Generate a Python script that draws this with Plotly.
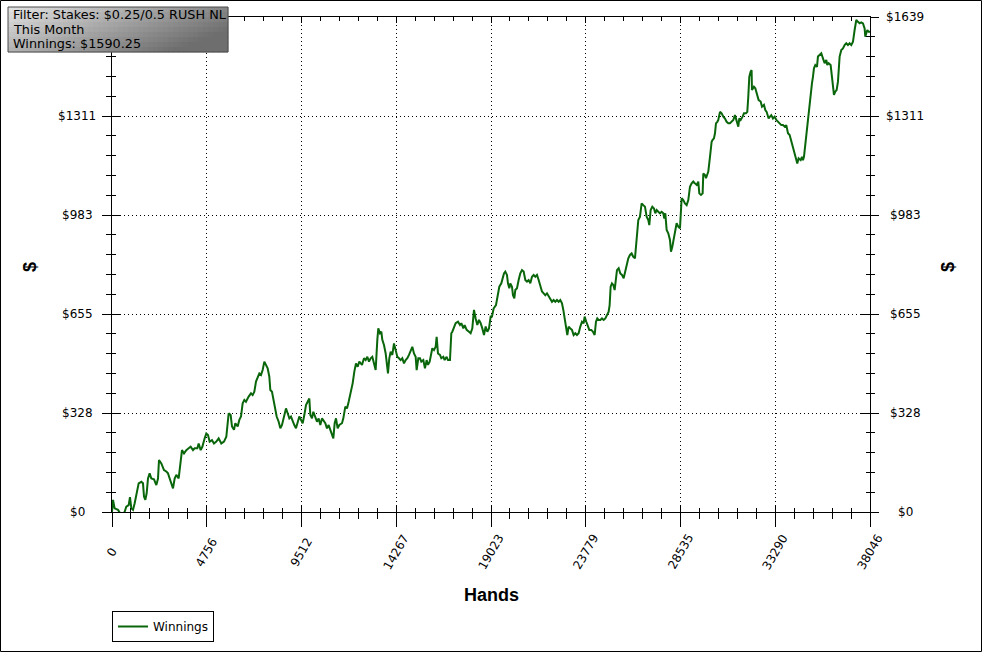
import plotly.graph_objects as go

# ---------------- data ----------------
hands = [0, 50, 134, 301, 468, 552, 636, 719, 837, 903, 970, 1054, 1138, 1271, 1338, 1472, 1556, 1606, 1673, 1740,
         1807, 1890, 1974, 2108, 2225, 2309, 2359, 2476, 2610, 2727, 2811, 2894, 2978, 3062, 3145, 3229, 3346, 3446,
         3513, 3614, 3731, 3848, 3948, 4065, 4149, 4283, 4350, 4450, 4534, 4651, 4734, 4818, 4902, 5019, 5119, 5236,
         5354, 5487, 5621, 5738, 5822, 5856, 5956, 6023, 6123, 6190,
         6307, 6391, 6475, 6558, 6642, 6725, 6859, 6976, 7060, 7144, 7227, 7311, 7395, 7478, 7562, 7646, 7729, 7813,
         7897, 7947, 8030, 8097, 8198, 8265, 8365, 8449, 8532, 8650, 8733, 8817, 8901, 8984, 9068, 9151, 9235, 9319,
         9402, 9486, 9570, 9653, 9737, 9821, 9904, 9954, 10038, 10105, 10205, 10289, 10373, 10456, 10540, 10607,
         10707, 10791, 10875, 10958, 11042, 11109, 11176, 11243, 11326, 11410, 11544, 11611, 11711, 11795, 11878,
         11995, 12079, 12163, 12246, 12330, 12414, 12548,
         12648, 12732, 12815, 12899, 12982, 13066, 13150, 13234, 13317, 13367, 13451, 13518, 13568, 13652, 13736,
         13819, 13852, 13919, 13986, 14070, 14154, 14237, 14321, 14405, 14488, 14572, 14655, 14739, 14823, 14906,
         14990, 15074, 15157, 15241, 15291, 15375, 15459, 15525, 15626, 15709, 15793, 15860, 15944, 16027, 16077,
         16161, 16245, 16295, 16362, 16462, 16529, 16630, 16697, 16797, 16864, 16964, 17031, 17081, 17165, 17249,
         17366, 17466, 17533, 17634, 17701, 17801, 17918, 18001, 18085, 18169, 18252, 18336, 18420, 18504, 18587,
         18671, 18755, 18838, 18922, 19006,
         19072, 19156, 19273, 19373, 19440, 19541, 19608, 19674, 19741, 19825, 19875, 19942, 19992, 20076, 20126,
         20193, 20243, 20327, 20411, 20494, 20578, 20662, 20745, 20829, 20913, 20996, 21080, 21164, 21247, 21331,
         21415, 21498, 21582, 21666, 21749, 21833, 21917, 22000, 22084, 22168, 22251, 22335, 22419, 22502, 22586,
         22653, 22719, 22786, 22853, 22920, 23004, 23087, 23171, 23255, 23338, 23422, 23506, 23589, 23673, 23723,
         23807, 23874, 23957, 24058, 24141, 24225, 24292, 24359, 24426, 24510, 24593, 24677, 24761, 24844, 24928,
         24978, 25028, 25095, 25162, 25229, 25296, 25346, 25430, 25513, 25597, 25681,
         25915, 25998, 26082, 26166, 26249, 26333, 26417, 26500, 26584, 26668, 26751, 26835, 26919, 26969, 27036,
         27119, 27203, 27270, 27337, 27420, 27504, 27588, 27671, 27722, 27772, 27839, 27922, 28006, 28056, 28123,
         28173, 28257, 28340, 28424, 28508, 28592, 28675, 28759, 28843, 28926, 29010, 29094, 29177, 29261, 29345,
         29428, 29478, 29562, 29646, 29679, 29763, 29813, 29880, 29930, 30014, 30047, 30097, 30147, 30214, 30265,
         30315, 30382, 30432, 30516, 30599, 30683, 30766, 30850, 30934, 31017, 31101, 31185, 31268, 31318, 31385,
         31435, 31486, 31553, 31653, 31720, 31820, 31887, 31937, 31987, 32054, 32104,
         32121, 32222, 32289, 32389, 32456, 32557, 32624, 32724, 32791, 32858, 32958, 33025, 33092, 33176, 33260,
         33343, 33427, 33510, 33594, 33678, 33762, 33845, 33929, 34013, 34096, 34180, 34264, 34347, 34397, 34464,
         34565, 34631, 34681, 34732, 34799, 34866, 34932, 34999, 35066, 35133, 35183, 35233, 35300, 35384, 35434,
         35518, 35601, 35685, 35769, 35852, 35902, 35969, 36070, 36137, 36187, 36237, 36304, 36371, 36438, 36521,
         36605, 36689, 36772, 36856, 36940, 37023, 37107, 37191, 37274, 37358, 37442, 37525, 37609, 37693, 37776,
         37810, 37860, 37910, 37977, 38046]

winnings = [0, 40, 12, 7, -10, -15, 1, 18, 23, 49, 12, 7, 29, 67, 95, 100, 95, 51, 40, 62,
            111, 128, 111, 108, 89, 111, 172, 161, 139, 134, 128, 111, 95, 78, 111, 123, 111, 178,
            205, 194, 205, 211, 216, 205, 211, 211, 227, 205, 216, 244, 260, 255, 233, 238, 227, 233,
            244, 227, 233, 249, 294, 327, 321, 283, 272, 294,
            283, 305, 316, 360, 371, 365, 382, 393, 387, 398, 432, 443, 459, 454, 470, 498, 487, 476,
            448, 404, 398, 376, 349, 316, 299, 277, 288, 327, 343, 327, 310, 316, 299, 288, 277, 299,
            316, 305, 294, 321, 354, 365, 376, 321, 310, 332, 316, 299, 310, 288, 310, 305,
            294, 277, 288, 272, 255, 244, 294, 310, 277, 288, 294, 310, 349, 343, 365,
            398, 426, 465, 492, 481, 498, 487,
            509, 503, 514, 498, 509, 514, 487, 470, 570, 608, 592, 597, 570, 553, 525,
            487, 459, 509, 531, 520, 558, 536, 514, 509, 503, 509, 492, 503, 509, 520,
            536, 547, 525, 514, 470, 509, 509, 498, 503, 476, 503, 487, 498, 525, 542,
            536, 547, 580, 525, 520, 509, 514, 503, 514, 503, 503, 592, 597, 614, 625,
            630, 619, 625, 608, 619, 603, 597, 592, 608, 669, 641, 619, 636, 625, 608,
            586, 614, 597, 608, 647,
            647, 674, 685, 718, 746, 757, 774, 790, 796, 785, 757, 741, 757, 746, 718,
            707, 735, 741, 768, 790, 801, 796, 768, 763, 768, 757, 779, 785, 779, 785,
            768, 752, 730, 724, 718, 724, 713, 707, 696, 702, 696, 702, 696, 702, 691,
            669, 647, 614, 586, 614, 608, 603, 586, 592, 586, 592, 614, 630, 625, 647,
            630, 614, 603, 603, 597, 586, 630, 641, 636, 636, 641, 636, 641, 652, 663,
            685, 746, 757, 752, 735, 779, 801, 807, 790, 785, 774,
            840, 851, 856, 845, 840, 895, 967, 978, 1022, 1016, 1011, 978, 967, 950, 1000,
            1011, 1005, 989, 1000, 994, 989, 994, 989, 972, 989, 934, 923, 901, 862, 878,
            895, 923, 956, 945, 939, 1039, 1033, 1022, 1016, 1033, 1077, 1088, 1094, 1088, 1083,
            1094, 1055, 1050, 1055, 1121, 1116, 1105, 1116, 1127, 1176, 1210, 1226, 1232, 1237, 1254,
            1287, 1292, 1298, 1325, 1320, 1309, 1303, 1292, 1287, 1287, 1292, 1298, 1314, 1303, 1292,
            1276, 1303, 1298, 1309, 1320, 1320, 1325, 1375, 1441, 1458, 1463,
            1397, 1408, 1403, 1381, 1364, 1359, 1342, 1348, 1331, 1325, 1303, 1309, 1314, 1303, 1309,
            1298, 1292, 1287, 1281, 1281, 1276, 1281, 1254, 1248, 1226, 1210, 1188, 1160, 1154, 1171,
            1165, 1176, 1165, 1176, 1221, 1265, 1309, 1353, 1392, 1419, 1441, 1469, 1480, 1474, 1508,
            1513, 1519, 1502, 1486, 1497, 1480, 1486, 1480, 1441, 1397, 1381, 1392, 1397, 1425, 1508,
            1530, 1535, 1546, 1552, 1546, 1552, 1546, 1557, 1596, 1629, 1623, 1618, 1621, 1618, 1601,
            1574, 1585, 1596, 1590, 1590.25]

x_ticks = [0, 4756, 9512, 14267, 19023, 23779, 28535, 33290, 38046]
x_tick_labels = ["0", "4756", "9512", "14267", "19023", "23779", "28535", "33290", "38046"]
y_ticks = [0, 327.8, 655.6, 983.4, 1311.2, 1639]
y_tick_labels = ["$0", "$328", "$655", "$983", "$1311", "$1639"]

info_lines = ["Filter: Stakes: $0.25/0.5 RUSH NL", "This Month", "Winnings: $1590.25"]
series_name = "Winnings"
x_title = "Hands"
y_title = "$"

# ---------------- figure ----------------
W, H = 983, 653
ML, MR, MT, MB = 112, 113, 17, 141
PW, PH = W - ML - MR, H - MT - MB


def px_x(p):
    return (p - ML) / PW


def px_y(p):
    return (H - MB - p) / PH


FONT = "DejaVu Sans"
x_rng = [x_ticks[0], x_ticks[-1]]
y_rng = [y_ticks[0], y_ticks[-1]]
x_minor = (x_ticks[1] - x_ticks[0]) / 5
y_minor = (y_ticks[1] - y_ticks[0]) / 5

fig = go.Figure()
fig.add_trace(go.Scatter(x=hands, y=winnings, mode="lines", name=series_name,
                         line=dict(color="#0a660a", width=2), hoverinfo="x+y"))
# invisible helpers so the overlay axes (crossing ticks) get drawn
fig.add_trace(go.Scatter(x=hands, y=winnings, mode="lines", xaxis="x2", yaxis="y2",
                         line=dict(color="rgba(0,0,0,0)", width=0), showlegend=False, hoverinfo="skip"))
fig.add_trace(go.Scatter(x=hands, y=winnings, mode="lines", xaxis="x", yaxis="y3",
                         line=dict(color="rgba(0,0,0,0)", width=0), showlegend=False, hoverinfo="skip"))

grid = dict(showgrid=True, gridcolor="#000000", gridwidth=1, griddash="1px,3px")
fig.update_layout(
    width=W, height=H, autosize=False,
    margin=dict(l=ML, r=MR, t=MT, b=MB, autoexpand=False),
    paper_bgcolor="white", plot_bgcolor="white",
    font=dict(family=FONT, size=12, color="black"),
    showlegend=True,
    legend=dict(x=0, xanchor="left", y=px_y(611), yanchor="top", bgcolor="white",
                bordercolor="black", borderwidth=1, font=dict(family=FONT, size=12),
                tracegroupgap=0, itemwidth=30),
    xaxis=dict(range=x_rng, tickmode="array", tickvals=x_ticks, showticklabels=False,
               ticks="outside", ticklen=14, tickcolor="black", tickwidth=1,
               showline=True, linecolor="black", linewidth=1, zeroline=False,
               minor=dict(ticks="outside", ticklen=6, dtick=x_minor, tick0=0, tickcolor="black", showgrid=False),
               **grid),
    xaxis2=dict(range=x_rng, overlaying="x", anchor="y", side="bottom", tickmode="array", tickvals=x_ticks,
                showticklabels=False, ticks="inside", ticklen=6, tickcolor="black",
                showline=True, mirror="ticks", linecolor="black", showgrid=False, zeroline=False,
                minor=dict(ticks="inside", ticklen=4, dtick=x_minor, tick0=0, tickcolor="black", showgrid=False)),
    yaxis=dict(range=y_rng, tickmode="array", tickvals=y_ticks, showticklabels=False,
               ticks="outside", ticklen=9, tickcolor="black", tickwidth=1,
               showline=True, linecolor="black", linewidth=1, zeroline=False,
               minor=dict(ticks="outside", ticklen=5, dtick=y_minor, tick0=0, tickcolor="black", showgrid=False),
               **grid),
    yaxis2=dict(range=y_rng, overlaying="y", anchor="x", side="left", tickmode="array", tickvals=y_ticks,
                showticklabels=False, ticks="inside", ticklen=9, tickcolor="black",
                showline=True, mirror="ticks", linecolor="black", showgrid=False, zeroline=False,
                minor=dict(ticks="inside", ticklen=4, dtick=y_minor, tick0=0, tickcolor="black", showgrid=False)),
    yaxis3=dict(range=y_rng, overlaying="y", anchor="x", side="right", tickmode="array", tickvals=y_ticks,
                showticklabels=False, ticks="outside", ticklen=8, tickcolor="black",
                showline=True, linecolor="black", showgrid=False, zeroline=False,
                minor=dict(ticks="outside", ticklen=4, dtick=y_minor, tick0=0, tickcolor="black", showgrid=False)),
)

ann = []
for k, (v, t) in enumerate(zip(y_ticks, y_tick_labels)):
    if k < len(y_ticks) - 1:  # the top-left label sits under the info box in the reference
        ann.append(dict(x=px_x(77), xref="paper", y=v, yref="y", text=t, showarrow=False,
                        xanchor="center", yanchor="middle", font=dict(family=FONT, size=12)))
    ann.append(dict(x=px_x(905), xref="paper", y=v, yref="y", text=t, showarrow=False,
                    xanchor="center", yanchor="middle", font=dict(family=FONT, size=12)))
for v, t in zip(x_ticks, x_tick_labels):
    ann.append(dict(x=v, xref="x", y=px_y(552), yref="paper", text=t, showarrow=False, textangle=-60,
                    xanchor="center", yanchor="middle", font=dict(family=FONT, size=12)))
ann.append(dict(x=0.5, xref="paper", y=px_y(595), yref="paper", text="<b>%s</b>" % x_title, showarrow=False,
                xanchor="center", yanchor="middle", font=dict(family="Liberation Sans", size=18)))
for xp in (30, 948):
    ann.append(dict(x=px_x(xp), xref="paper", y=px_y(267), yref="paper", text="<b>%s</b>" % y_title,
                    showarrow=False, textangle=-90, xanchor="center", yanchor="middle",
                    font=dict(family="Liberation Sans", size=18)))
for k, line in enumerate(info_lines):
    ann.append(dict(x=px_x(11), xref="paper", y=px_y(14.5 + 14.5 * k), yref="paper", text=line,
                    showarrow=False, xanchor="left", yanchor="middle", align="left",
                    font=dict(family=FONT, size=12.8, color="black")))

shapes = []
# gradient info box
bx0, bx1, by0, by1 = 8, 228, 7, 52
ncol, nrow = 44, 9
for i in range(ncol):
    for j in range(nrow):
        u = (i + 0.5) / ncol
        w = (j + 0.5) / nrow
        c = int(max(110, 228 - 92 * u - 50 * w))
        x0 = bx0 + (bx1 - bx0) * i / ncol
        x1 = bx0 + (bx1 - bx0) * (i + 1) / ncol
        y0 = by0 + (by1 - by0) * j / nrow
        y1 = by0 + (by1 - by0) * (j + 1) / nrow
        shapes.append(dict(type="rect", xref="paper", yref="paper", layer="above",
                           x0=px_x(x0), x1=px_x(x1 + 0.3), y0=px_y(y0), y1=px_y(y1 + 0.3),
                           fillcolor="rgb(%d,%d,%d)" % (c, c, c), line=dict(width=0)))
shapes.append(dict(type="rect", xref="paper", yref="paper", layer="above",
                   x0=px_x(bx0), x1=px_x(bx1), y0=px_y(by0), y1=px_y(by1),
                   line=dict(color="#4a4a4a", width=1), fillcolor="rgba(0,0,0,0)"))
# outer frame
shapes.append(dict(type="rect", xref="paper", yref="paper", layer="above",
                   x0=px_x(0.5), x1=px_x(981.5), y0=px_y(0.5), y1=px_y(651.5),
                   line=dict(color="black", width=1), fillcolor="rgba(0,0,0,0)"))

fig.update_layout(annotations=ann, shapes=shapes)
fig.write_html("out.html", config={"displayModeBar": False},
               post_script="document.body.style.margin='0';document.body.style.overflow='hidden';")
